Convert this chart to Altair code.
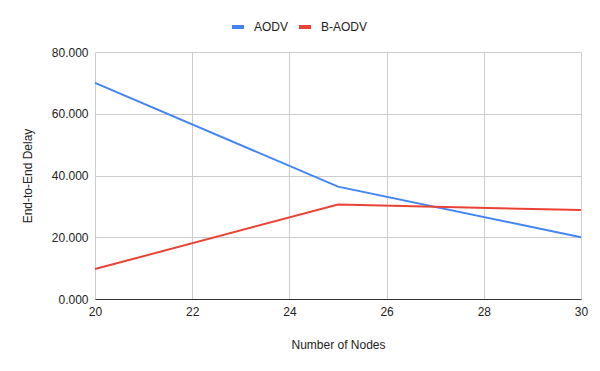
import altair as alt
import pandas as pd

nodes = [20, 25, 30]
aodv = [70.0, 36.4, 20.0]
baodv = [9.7, 30.6, 28.8]
series = ["AODV", "B-AODV"]
colors = ["#4285F4", "#EA4335"]
x_ticks = [20, 22, 24, 26, 28, 30]
y_ticks = [0, 20, 40, 60, 80]

rows = []
for n, v in zip(nodes, aodv):
    rows.append({"nodes": n, "delay": v, "series": "AODV"})
for n, v in zip(nodes, baodv):
    rows.append({"nodes": n, "delay": v, "series": "B-AODV"})
df = pd.DataFrame(rows)

font = "Liberation Sans"

chart = alt.Chart(df).mark_line(strokeWidth=2).encode(
    x=alt.X("nodes:Q", title="Number of Nodes",
            scale=alt.Scale(domain=[20, 30], nice=False, zero=False),
            axis=alt.Axis(values=x_ticks, format="d", labelFlush=False,
                          titlePadding=22, labelPadding=7)),
    y=alt.Y("delay:Q", title="End-to-End Delay",
            scale=alt.Scale(domain=[0, 80], nice=False),
            axis=alt.Axis(values=y_ticks, format=".3f", titlePadding=17, labelPadding=7)),
    color=alt.Color("series:N", scale=alt.Scale(domain=series, range=colors),
                    legend=alt.Legend(title=None, orient="none", direction="horizontal",
                                      legendX=135, legendY=-33, padding=0,
                                      symbolType="stroke",
                                      symbolSize=144, symbolStrokeWidth=4,
                                      labelFontSize=12, labelFont=font, labelColor="#222",
                                      columnPadding=2, labelOffset=8)),
).properties(
    width=486, height=247,
    autosize=alt.AutoSizeParams(type="none"),
    padding={"left": 87, "top": 44, "right": 11, "bottom": 64},
).configure_view(
    stroke=None
).configure_axis(
    labelFont=font, titleFont=font, labelFontSize=12, titleFontSize=12,
    labelColor="#222", titleColor="#222", titleFontWeight="normal",
    gridColor="#cccccc", gridWidth=1, ticks=False, domain=False,
).configure_axisX(
    domain=True, domainColor="#333333", domainWidth=1
)

chart.save("out.html", embed_options={"renderer": "svg", "actions": False})
